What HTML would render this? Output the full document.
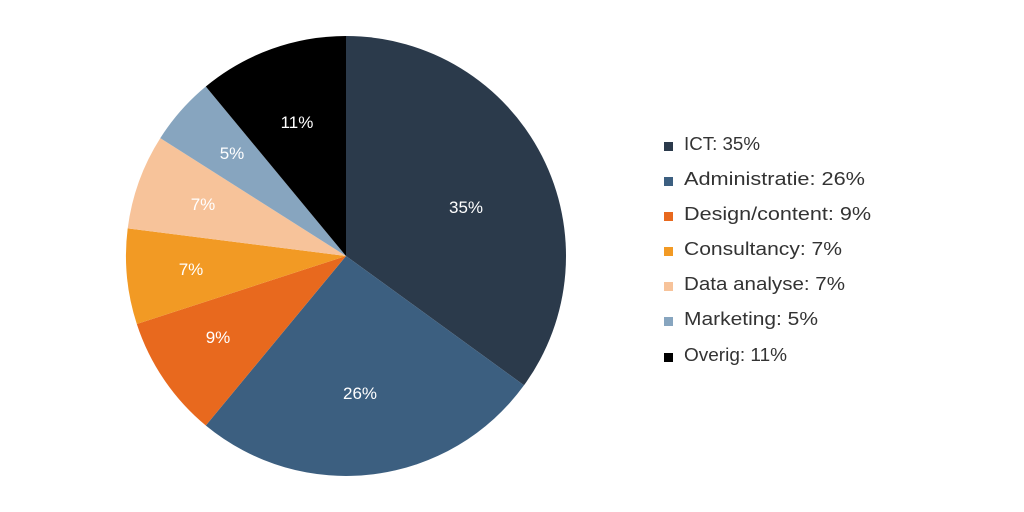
<!DOCTYPE html>
<html><head><meta charset="utf-8"><style>html,body{margin:0;padding:0;background:#fff;}svg{display:block}</style></head>
<body>
<svg width="1024" height="512" viewBox="0 0 1024 512" xmlns="http://www.w3.org/2000/svg" font-family="Liberation Sans, sans-serif">
<rect width="1024" height="512" fill="#fff"/>
<path d="M346,256 L346,36 A220,220 0 0 1 524.0,385.3 Z" fill="#2b3a4b"/>
<path d="M346,256 L524.0,385.3 A220,220 0 0 1 205.8,425.5 Z" fill="#3c5f80"/>
<path d="M346,256 L205.8,425.5 A220,220 0 0 1 136.8,324.0 Z" fill="#e8691e"/>
<path d="M346,256 L136.8,324.0 A220,220 0 0 1 127.7,228.4 Z" fill="#f29a24"/>
<path d="M346,256 L127.7,228.4 A220,220 0 0 1 160.3,138.1 Z" fill="#f7c39a"/>
<path d="M346,256 L160.3,138.1 A220,220 0 0 1 205.8,86.5 Z" fill="#87a5bf"/>
<path d="M346,256 L205.8,86.5 A220,220 0 0 1 346,36 Z" fill="#000"/>
<g fill="#fff" font-size="17" text-anchor="middle">
<text x="466" y="213">35%</text>
<text x="360" y="399">26%</text>
<text x="218" y="343">9%</text>
<text x="191" y="275">7%</text>
<text x="203" y="210">7%</text>
<text x="232" y="159">5%</text>
<text x="297" y="128">11%</text>
</g>
<g font-size="18" fill="#333">
<rect x="664" y="142" width="9" height="9" fill="#2b3a4b"/><text x="684" y="150" textLength="76" lengthAdjust="spacingAndGlyphs">ICT: 35%</text>
<rect x="664" y="177" width="9" height="9" fill="#3c5f80"/><text x="684" y="185" textLength="181" lengthAdjust="spacingAndGlyphs">Administratie: 26%</text>
<rect x="664" y="212" width="9" height="9" fill="#e8691e"/><text x="684" y="220" textLength="187" lengthAdjust="spacingAndGlyphs">Design/content: 9%</text>
<rect x="664" y="247" width="9" height="9" fill="#f29a24"/><text x="684" y="255" textLength="158" lengthAdjust="spacingAndGlyphs">Consultancy: 7%</text>
<rect x="664" y="282" width="9" height="9" fill="#f7c39a"/><text x="684" y="290" textLength="161" lengthAdjust="spacingAndGlyphs">Data analyse: 7%</text>
<rect x="664" y="317" width="9" height="9" fill="#87a5bf"/><text x="684" y="325" textLength="134" lengthAdjust="spacingAndGlyphs">Marketing: 5%</text>
<rect x="664" y="353" width="9" height="9" fill="#000"/><text x="684" y="361" textLength="103" lengthAdjust="spacingAndGlyphs">Overig: 11%</text>
</g>
</svg>
</body></html>
